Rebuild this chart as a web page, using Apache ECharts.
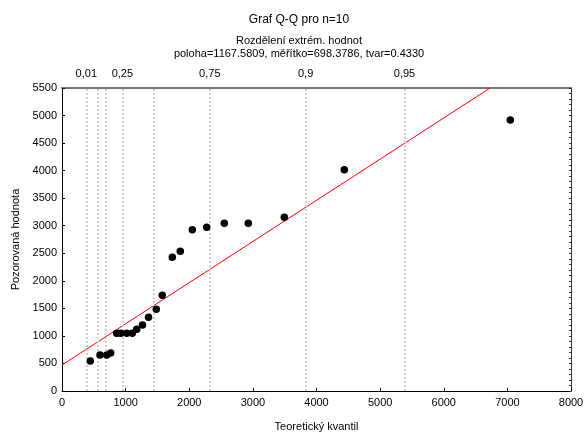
<!DOCTYPE html>
<html>
<head>
<meta charset="utf-8">
<script src="https://cdn.jsdelivr.net/npm/echarts@6/dist/echarts.min.js"></script>
<style>
  html, body { margin: 0; padding: 0; background: #fff; }
  #chart { width: 584px; height: 432px; }
</style>
</head>
<body>
<div id="chart"></div>
<script>
// Observed values plotted against theoretical quantiles of the fitted distribution
const theoretical = [445, 597, 703, 765, 860, 923, 1017, 1105, 1174, 1265, 1360, 1482,
                     1576, 1734, 1859, 2048, 2274, 2551, 2928, 3494, 4437, 7046];
const observed = [545, 653, 653, 690, 1047, 1047, 1047, 1047, 1120, 1198, 1338, 1483,
                  1737, 2427, 2536, 2928, 2971, 3044, 3044, 3153, 4017, 4919];

// Reference line end points (x, y)
const refLine = [[0, 472], [8000, 6451]];

// Quantiles of the fitted distribution at chosen probabilities
const probQuantiles = [382, 564, 685, 949, 1448, 2323, 3829, 5383];
const probLabels = ['0,01', '', '', '0,25', '', '0,75', '0,9', '0,95'];

const xTicks = [0, 1000, 2000, 3000, 4000, 5000, 6000, 7000, 8000];
const yMax = 5500;

const font = 'Liberation Sans, Arial, sans-serif';
const points = theoretical.map((x, i) => [x, observed[i]]);
const labeledValues = probQuantiles.filter((v, i) => probLabels[i] !== '');
const labelFor = v => {
  const i = probQuantiles.indexOf(v);
  return i >= 0 ? probLabels[i] : '';
};
const plain = v => String(v);

const chart = echarts.init(document.getElementById('chart'), null, { renderer: 'canvas' });
chart.setOption({
  animation: false,
  backgroundColor: '#fff',
  textStyle: { fontFamily: font },
  title: [
    { text: 'Graf Q-Q pro n=10', left: 294, top: 9, textAlign: 'center',
      textStyle: { fontSize: 12, fontWeight: 'normal', color: '#000', fontFamily: font } },
    { text: 'Rozdělení extrém. hodnot\npoloha=1167.5809, měřítko=698.3786, tvar=0.4330',
      left: 294, top: 29, textAlign: 'center',
      textStyle: { fontSize: 11, fontWeight: 'normal', color: '#000', fontFamily: font, lineHeight: 13 } }
  ],
  grid: { left: 62, right: 13, top: 88, bottom: 41, containLabel: false, outerBoundsMode: 'none' },
  xAxis: [
    {
      type: 'value', min: xTicks[0], max: xTicks[xTicks.length - 1], interval: 1000,
      position: 'bottom',
      name: 'Teoretický kvantil', nameLocation: 'middle', nameGap: 30,
      nameTextStyle: { fontSize: 11, color: '#000', fontFamily: font },
      axisLine: { onZero: false, lineStyle: { color: '#000', width: 1 } },
      axisTick: { inside: true, length: 3, lineStyle: { color: '#000' } },
      axisLabel: { fontSize: 11, color: '#000', margin: 6, fontFamily: font, formatter: plain },
      splitLine: { show: false }
    },
    {
      type: 'value', min: xTicks[0], max: xTicks[xTicks.length - 1],
      position: 'top',
      axisLine: { onZero: false, lineStyle: { color: '#777', width: 2 } },
      axisTick: { show: false },
      axisLabel: {
        customValues: labeledValues,
        formatter: v => labelFor(v),
        fontSize: 11, color: '#000', margin: 9, fontFamily: font
      },
      splitLine: { show: false }
    }
  ],
  yAxis: [
    {
      type: 'value', min: 0, max: yMax, interval: 500,
      position: 'left',
      name: 'Pozorovaná hodnota', nameLocation: 'middle', nameGap: 37, nameRotate: 90,
      nameTextStyle: { fontSize: 11, color: '#000', fontFamily: font },
      axisLine: { onZero: false, lineStyle: { color: '#000', width: 1 } },
      axisTick: { inside: true, length: 3, lineStyle: { color: '#000' } },
      axisLabel: { fontSize: 11, color: '#000', margin: 5, fontFamily: font, formatter: plain },
      splitLine: { show: false }
    },
    {
      type: 'value', min: 0, max: yMax, interval: 100,
      position: 'right',
      axisLine: { onZero: false, lineStyle: { color: '#333', width: 1 } },
      axisTick: { inside: true, length: 2, lineStyle: { color: '#333' } },
      axisLabel: { show: false },
      splitLine: { show: false }
    }
  ],
  series: [
    {
      // vertical guides at the probability quantiles
      type: 'line',
      xAxisIndex: 0, yAxisIndex: 0,
      data: [],
      z: 1,
      markLine: {
        silent: true,
        symbol: 'none',
        animation: false,
        label: { show: false },
        lineStyle: { type: [2, 2], color: '#cfcfcf', width: 2 },
        data: probQuantiles.map(v => ({ xAxis: v }))
      }
    },
    {
      type: 'line',
      xAxisIndex: 0, yAxisIndex: 0,
      data: refLine,
      symbol: 'none',
      clip: true,
      lineStyle: { color: '#ff0000', width: 1 },
      z: 3
    },
    {
      type: 'scatter',
      xAxisIndex: 0, yAxisIndex: 0,
      data: points,
      symbol: 'circle',
      symbolSize: 7.5,
      itemStyle: { color: '#000', opacity: 1 },
      z: 10
    }
  ]
});
</script>
</body>
</html>
